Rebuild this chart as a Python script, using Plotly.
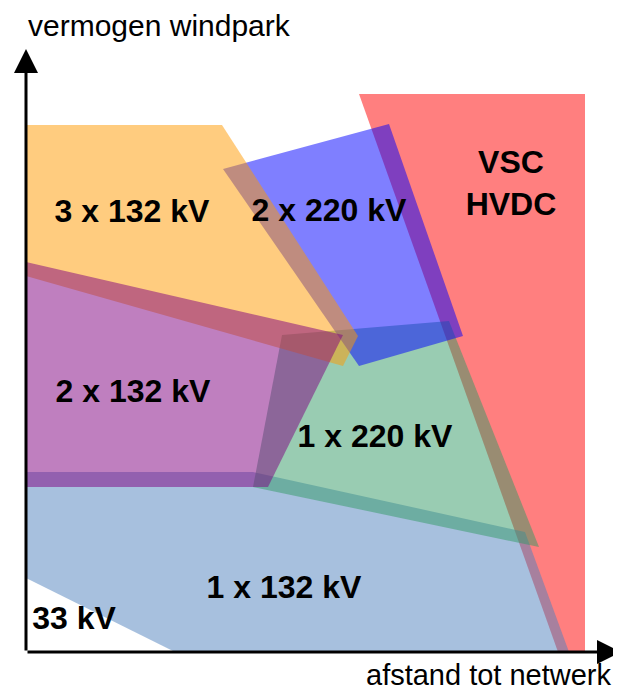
import plotly.graph_objects as go

# polygon vertices per technology (afstand, vermogen), origin = axis corner
vsc_x = [333, 559, 559, 532]
vsc_y = [558, 558, 0, 0]

ac132_1_x = [0, 227, 499, 543, 149, 0]
ac132_1_y = [180, 180, 120, 0, 0, 74]

ac220_1_x = [256, 423, 513, 227]
ac220_1_y = [317, 331, 105, 165]

ac220_2_x = [197, 363, 437, 333]
ac220_2_y = [483, 528, 316, 286]

ac132_3_x = [0, 196, 332, 317, 0]
ac132_3_y = [527, 527, 316, 286, 376]

ac132_2_x = [0, 317, 242, 0]
ac132_2_y = [390, 317, 165, 165]

# labels
label_text = ["3 x 132 kV", "2 x 220 kV", "VSC<br>HVDC", "2 x 132 kV",
              "1 x 220 kV", "1 x 132 kV", "33 kV"]
label_x = [106, 303, 485, 107, 349, 258, 48]
label_y = [438, 439, 466, 258, 213, 62, 31]

FONT = "Liberation Sans, Arial, sans-serif"

fig = go.Figure()

regions = [
    (vsc_x, vsc_y, "rgba(255,0,0,0.5)"),
    (ac132_1_x, ac132_1_y, "rgba(79,129,189,0.5)"),
    (ac220_1_x, ac220_1_y, "rgba(51,153,102,0.5)"),
    (ac220_2_x, ac220_2_y, "rgba(0,0,255,0.5)"),
    (ac132_3_x, ac132_3_y, "rgba(255,153,0,0.5)"),
    (ac132_2_x, ac132_2_y, "rgba(128,0,128,0.5)"),
]

for xs, ys, color in regions:
    fig.add_trace(go.Scatter(
        x=xs + [xs[0]],
        y=ys + [ys[0]],
        mode="lines",
        fill="toself",
        fillcolor=color,
        line=dict(width=0),
        hoverinfo="skip",
        showlegend=False
    ))

fig.add_trace(go.Scatter(
    x=label_x,
    y=label_y,
    mode="text",
    text=label_text,
    textfont=dict(family=FONT, size=32, color="black", weight="bold"),
    hoverinfo="skip",
    showlegend=False
))

# axes with arrows
fig.add_annotation(x=0, y=603, ax=0, ay=0, xref="x", yref="y", axref="x", ayref="y",
                   showarrow=True, arrowhead=2, arrowsize=1.6, arrowwidth=3,
                   arrowcolor="black", text="")
fig.add_annotation(x=595, y=0, ax=0, ay=0, xref="x", yref="y", axref="x", ayref="y",
                   showarrow=True, arrowhead=2, arrowsize=1.6, arrowwidth=3,
                   arrowcolor="black", text="")

fig.add_annotation(x=1, y=627, xref="x", yref="y", xanchor="left", yanchor="middle",
                   text="vermogen windpark", showarrow=False, borderpad=0,
                   font=dict(family=FONT, size=30, color="black"))
fig.add_annotation(x=587, y=-23, xref="x", yref="y", xanchor="right", yanchor="middle",
                   text="afstand tot netwerk", showarrow=False, borderpad=0,
                   font=dict(family=FONT, size=29, color="black"))

# page body adds an 8px margin, so the figure is 8px smaller and ranges shifted
fig.update_layout(
    width=613,
    height=685,
    margin=dict(l=0, r=0, t=0, b=0),
    plot_bgcolor="white",
    paper_bgcolor="white",
    xaxis=dict(range=[-18, 595], visible=False, fixedrange=True),
    yaxis=dict(range=[-41, 644], visible=False, fixedrange=True),
)

fig.write_html("out.html")
